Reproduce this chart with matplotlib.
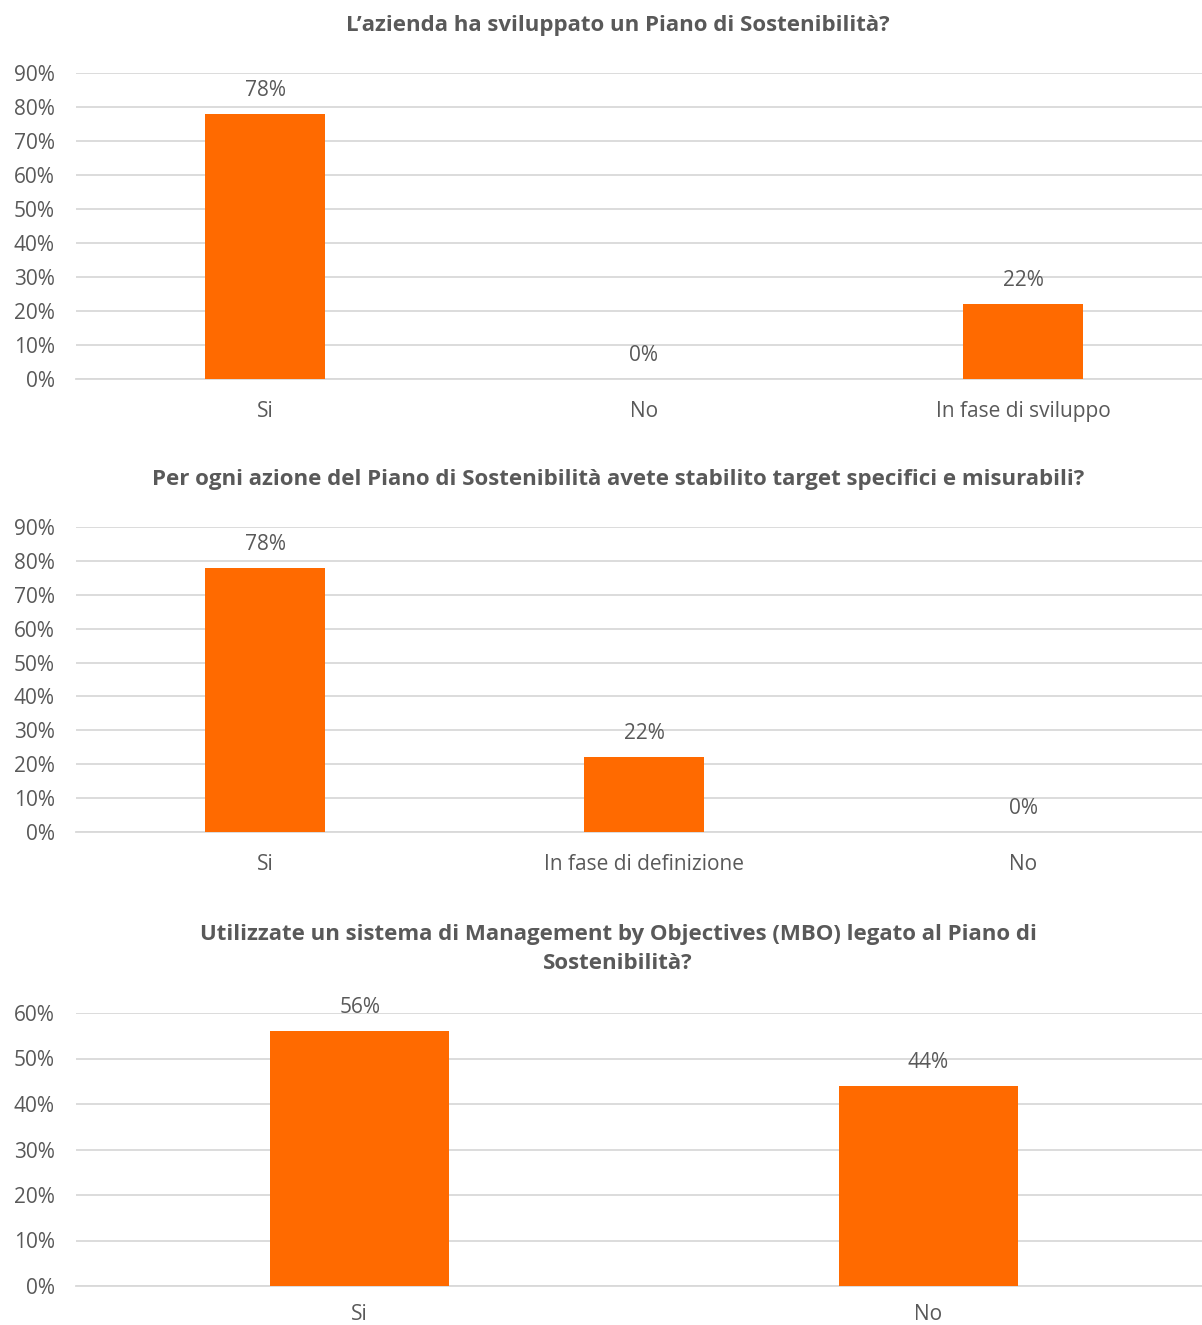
import matplotlib
matplotlib.use("Agg")
import matplotlib.pyplot as plt

plt.rcParams['font.family'] = ['Open Sans', 'DejaVu Sans']

ORANGE = '#FF6A00'
GREY_TXT = '#595959'
GRID = '#D9D9D9'

# survey answers, percentages
q1_title = "L\u2019azienda ha sviluppato un Piano di Sostenibilità?"
q1_labels = ["Si", "No", "In fase di sviluppo"]
q1_values = [78, 0, 22]

q2_title = "Per ogni azione del Piano di Sostenibilità avete stabilito target specifici e misurabili?"
q2_labels = ["Si", "In fase di definizione", "No"]
q2_values = [78, 22, 0]

q3_title = "Utilizzate un sistema di Management by Objectives (MBO) legato al Piano di\nSostenibilità?"
q3_labels = ["Si", "No"]
q3_values = [56, 44]

W, H = 1202, 1325
fig = plt.figure(figsize=(W / 100, H / 100), dpi=100)


def panel(top, bottom, title, title_y, labels, values, ymax, xpad=16):
    # plot area runs a little past the right edge of the figure
    ax = fig.add_axes([75.5 / W, 1 - bottom / H, 1137 / W, (bottom - top) / H])
    x = range(len(labels))
    ax.bar(x, values, width=0.315, color=ORANGE, zorder=3)
    ax.set_xlim(-0.5, len(labels) - 0.5)
    ax.set_ylim(0, ymax)
    ax.set_yticks(range(0, ymax + 1, 10))
    ax.set_yticklabels([f"{t}%" for t in range(0, ymax + 1, 10)])
    ax.set_xticks(list(x))
    ax.set_xticklabels(labels)
    ax.grid(axis='y', color=GRID, linewidth=1.3, zorder=0)
    for s in ['top', 'right', 'left']:
        ax.spines[s].set_visible(False)
    ax.spines['bottom'].set_color(GRID)
    ax.spines['bottom'].set_linewidth(1.3)
    ax.tick_params(length=0, colors=GREY_TXT, labelsize=15)
    ax.tick_params(axis='y', pad=15)
    ax.tick_params(axis='x', pad=xpad)
    for xi, v in zip(x, values):
        ax.annotate(f"{v}%", (xi, v), xytext=(0, 13), textcoords='offset pixels',
                    ha='center', va='bottom', color=GREY_TXT, fontsize=15)
    fig.text(618 / W, 1 - title_y / H, title, ha='center', va='center',
             fontsize=16, fontweight='bold', color=GREY_TXT, linespacing=1.55)
    return ax


panel(73, 379, q1_title, 25, q1_labels, q1_values, 90)
panel(527, 832, q2_title, 479, q2_labels, q2_values, 90)
panel(1013, 1286, q3_title, 949, q3_labels, q3_values, 60, xpad=13)

fig.savefig("out.png", dpi=100, facecolor='white')
